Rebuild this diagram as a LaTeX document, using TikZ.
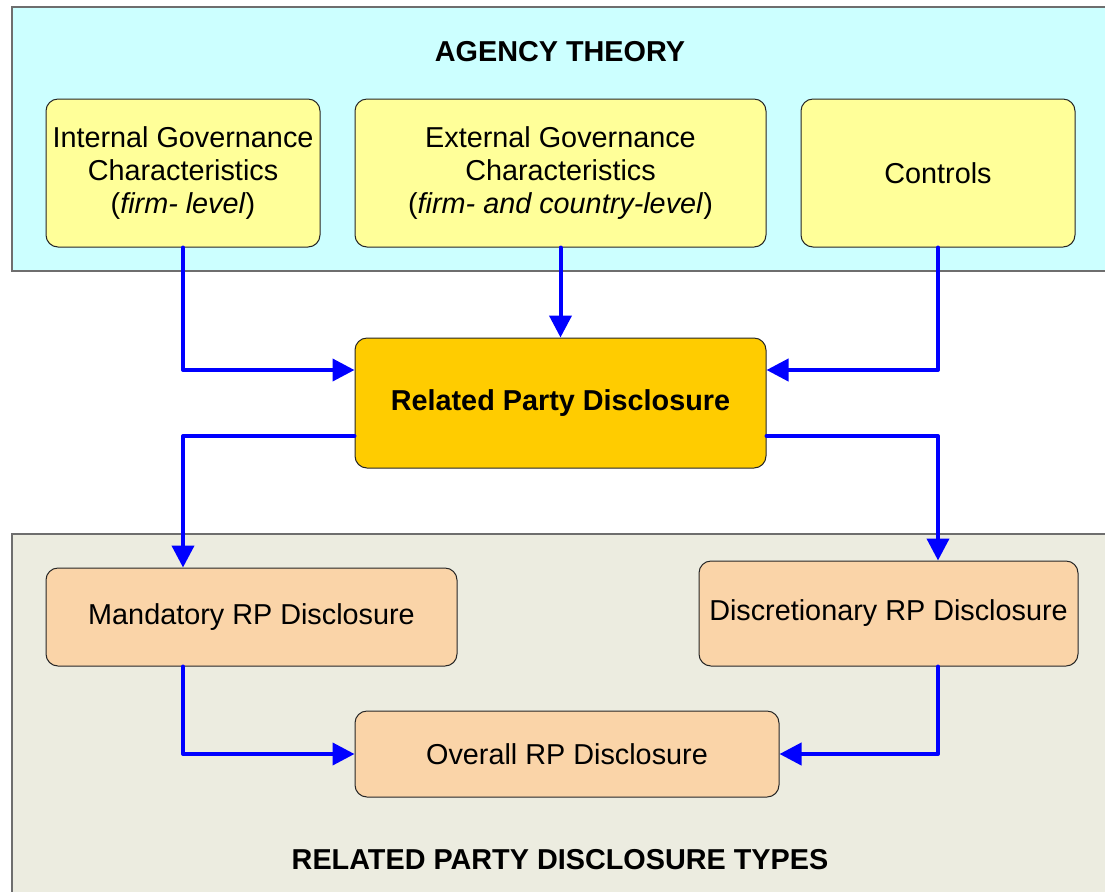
\documentclass[tikz,border=0pt]{standalone}
\usepackage{fontspec}
\setmainfont{Liberation Sans}
\usetikzlibrary{arrows.meta,positioning}

\definecolor{agencybg}{RGB}{204,255,255}
\definecolor{typesbg}{RGB}{236,236,224}
\definecolor{govfill}{RGB}{255,255,153}
\definecolor{rpdfill}{RGB}{255,204,0}
\definecolor{typefill}{RGB}{250,212,168}
\definecolor{framegray}{RGB}{110,110,110}
\newcommand\boxfont{\fontsize{14.4}{16.5}\selectfont}

\begin{document}
\begin{tikzpicture}[
  x=0.5pt,y=-0.5pt,
  >={Triangle[length=11pt,width=11pt]},
  panel/.style={draw=framegray,line width=0.6pt},
  box/.style={draw=black!85,rounded corners=6pt,align=center,line width=0.5pt,
              inner sep=2pt,font=\boxfont},
  gov/.style={box,fill=govfill,minimum height=74pt},
  rptype/.style={box,fill=typefill},
  flow/.style={->,draw=blue,line width=2pt,line cap=round,line join=round},
  title/.style={font=\boxfont\bfseries}
]
\useasboundingbox (0,0) rectangle (1105,891);

% the two panels
\path[panel,fill=agencybg] (12,7) rectangle (1120,271);
\path[panel,fill=typesbg] (12,534) rectangle (1120,900);
\node[title] (agency) at (560,52) {AGENCY THEORY};
\node[title] (types) at (560,860) {RELATED PARTY DISCLOSURE TYPES};

\node[gov,minimum width=137pt] (internal) at (183,173)
  {Internal Governance\\Characteristics\\(\textit{firm- level})};
\node[gov,minimum width=205.5pt,right=17pt of internal] (external)
  {External Governance\\Characteristics\\(\textit{firm- and country-level})};
\node[gov,minimum width=137pt,right=17pt of external] (controls) {Controls};

\node[box,fill=rpdfill,minimum width=205.5pt,minimum height=65pt,
      below=45pt of external,font=\boxfont\bfseries] (rpd) {Related Party Disclosure};

\node[rptype,minimum width=205.5pt,minimum height=49pt,
      below=160pt of internal.south west,anchor=north west] (mandatory) {Mandatory RP Disclosure};
\node[rptype,minimum width=189.5pt,minimum height=52.5pt,
      below=156.5pt of controls.south east,anchor=north east,xshift=1.5pt] (discret)
  {Discretionary RP Disclosure};
\node[rptype,minimum width=212pt,minimum height=43pt,
      below=121pt of rpd.south west,anchor=north west] (overall) {Overall RP Disclosure};

\draw[flow] (internal.south) |- ([yshift=16.5pt]rpd.west);
\draw[flow] (external.south) -- (rpd.north);
\draw[flow] (controls.south) |- ([yshift=16.5pt]rpd.east);
\draw[flow] ([yshift=-16.5pt]rpd.west) -| (internal.south |- mandatory.north);
\draw[flow] ([yshift=-16.5pt]rpd.east) -| (controls.south |- discret.north);
\draw[flow] (internal.south |- mandatory.south) |- (overall.west);
\draw[flow] (controls.south |- discret.south) |- (overall.east);
\end{tikzpicture}
\end{document}
